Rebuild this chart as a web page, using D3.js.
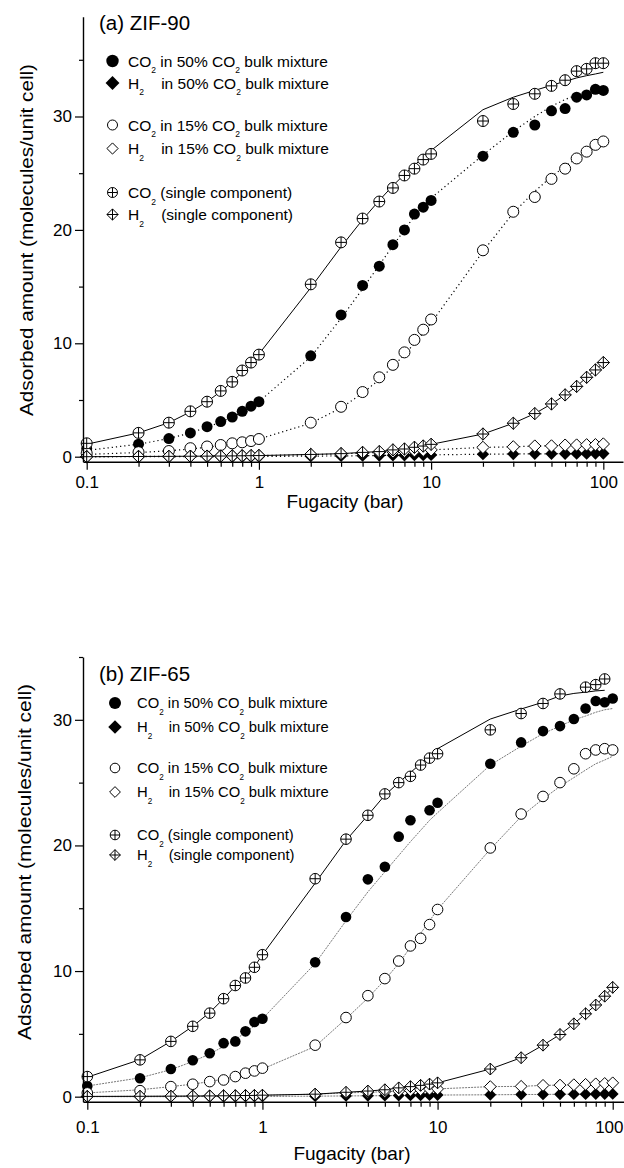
<!DOCTYPE html>
<html>
<head>
<meta charset="utf-8">
<script src="https://cdn.jsdelivr.net/npm/d3@7"></script>
<style>
  html, body { margin: 0; padding: 0; background: #fff; }
  svg text { font-family: "Liberation Sans", Arial, Helvetica, sans-serif; fill: #000; }
</style>
</head>
<body>
<svg id="chart" width="624" height="1168"></svg>
<script>
// Fugacity grid (bar) shared by every isotherm
const fugacity = [0.1,0.2,0.3,0.4,0.5,0.6,0.7,0.8,0.9,1, 2,3,4,5,6,7,8,9,10, 20,30,40,50,60,70,80,90,100];

const xMajorTicks = [0.1, 1, 10, 100];
const xTickLabels = ["0.1", "1", "10", "100"];
const xMinorTicks = [0.2,0.3,0.4,0.5,0.6,0.7,0.8,0.9, 2,3,4,5,6,7,8,9, 20,30,40,50,60,70,80,90];
const yMajorTicks = [0, 10, 20, 30];
const yMinorTicks = [5, 15, 25, 35];

const panelTitles = ["(a) ZIF-90", "(b) ZIF-65"];
const xAxisTitle = "Fugacity (bar)";
const yAxisTitle = "Adsorbed amount (molecules/unit cell)";
const legendLabels = [
  "CO_2 in 50% CO_2 bulk mixture",
  "H_2    in 50% CO_2 bulk mixture",
  "CO_2 in 15% CO_2 bulk mixture",
  "H_2    in 15% CO_2 bulk mixture",
  "CO_2 (single component)",
  "H_2    (single component)"
];

// ZIF-90 : simulated points (molecules/unit cell)
const zif90_co2Mix50 = [0.7,1.1,1.6,2.1,2.65,3.1,3.5,4.0,4.45,4.85, 8.9,12.5,15.1,16.8,18.7,20.0,21.4,22.0,22.6, 26.5,28.6,29.25,30.5,30.7,31.7,31.9,32.4,32.3];
const zif90_h2Mix50  = [0,0,0.01,0.01,0.01,0.01,0.02,0.02,0.02,0.02, 0.05,0.07,0.09,0.1,0.12,0.13,0.14,0.15,0.16, 0.22,0.24,0.25,0.26,0.26,0.27,0.27,0.28,0.28];
const zif90_co2Mix15 = [0.3,0.4,0.5,0.75,0.9,1.03,1.18,1.27,1.38,1.56, 3.0,4.4,5.7,7.0,8.1,9.2,10.3,11.2,12.1, 18.2,21.6,22.9,24.5,25.4,26.3,26.9,27.5,27.8];
const zif90_h2Mix15  = [0.01,0.02,0.03,0.04,0.05,0.06,0.07,0.08,0.09,0.1, 0.18,0.25,0.32,0.38,0.43,0.48,0.52,0.56,0.6, 0.82,0.87,0.94,0.95,1.02,1.03,1.05,1.06,1.12];
const zif90_co2Pure  = [1.18,2.1,3.0,4.0,4.85,5.8,6.6,7.6,8.3,9.0, 15.2,18.9,21.0,22.5,23.7,24.8,25.4,26.2,26.7, 29.6,31.1,32.0,32.7,33.2,34.0,34.2,34.7,34.7];
const zif90_h2Pure   = [0.0,0.02,0.03,0.04,0.05,0.06,0.07,0.08,0.09,0.1, 0.2,0.27,0.38,0.45,0.6,0.68,0.83,0.94,1.09, 2.0,2.95,3.8,4.65,5.45,6.2,7.0,7.65,8.3];

// ZIF-90 : model curves
const zif90_co2Mix50Curve = [0.55,1.1,1.6,2.1,2.6,3.05,3.5,3.95,4.4,4.85, 8.8,12.2,14.8,16.9,18.6,20.0,21.2,22.1,22.8, 26.6,28.7,30.0,30.9,31.5,31.9,32.2,32.4,32.6];
const zif90_co2Mix15Curve = [0.2,0.37,0.52,0.68,0.83,0.98,1.13,1.28,1.42,1.56, 2.95,4.3,5.6,6.8,7.95,9.0,10.0,10.9,11.8, 18.1,21.5,23.4,24.7,25.6,26.3,26.9,27.4,27.8];
const zif90_co2PureCurve  = [1.1,2.1,3.0,3.95,4.85,5.75,6.6,7.45,8.25,9.05, 14.9,18.5,20.9,22.6,23.9,24.9,25.7,26.4,27.0, 30.6,31.7,32.3,32.75,33.1,33.4,33.6,33.75,33.9];

// ZIF-65 : simulated points (molecules/unit cell)
const zif65_co2Mix50 = [0.85,1.47,2.2,2.9,3.46,4.26,4.4,5.2,5.94,6.2, 10.7,14.3,17.3,18.3,20.7,22.0,null,22.8,23.4, 26.5,28.2,29.1,29.5,30.06,30.9,31.5,31.4,31.7];
const zif65_h2Mix50  = [0,0,0,0.01,0.01,0.01,0.01,0.02,0.02,0.02, 0.04,0.06,0.07,0.08,0.09,0.1,0.11,0.12,0.13, 0.15,0.17,0.18,0.19,0.2,0.2,0.21,0.21,0.22];
const zif65_co2Mix15 = [0.3,0.48,0.8,0.99,1.2,1.33,1.6,1.87,2.05,2.27, 4.1,6.3,8.04,9.4,10.8,12.0,12.6,13.7,14.9, 19.8,22.5,23.9,25.0,26.1,27.3,27.6,27.7,27.6];
const zif65_h2Mix15  = [0.02,0.03,0.04,0.05,0.06,0.07,0.08,0.09,0.1,0.1, 0.2,0.3,0.35,0.4,0.45,0.5,0.55,0.6,0.62, 0.8,0.82,0.9,0.92,0.95,0.98,1.02,1.05,1.1];
const zif65_co2Pure  = [1.6,2.93,4.4,5.6,6.65,7.8,8.85,9.45,10.3,11.3, 17.35,20.5,22.4,24.1,25.0,25.5,26.4,26.95,27.3, 29.2,30.5,31.3,32.06,null,32.6,32.8,33.25,null];
const zif65_h2Pure   = [0.02,0.03,0.04,0.05,0.06,0.07,0.08,0.09,0.1,0.12, 0.2,0.35,0.45,0.55,0.7,0.8,0.9,1.0,1.1, 2.2,3.1,4.1,4.95,5.8,6.6,7.3,8.0,8.7];

// ZIF-65 : model curves
const zif65_co2Mix50Curve = [0.85,1.5,2.15,2.8,3.4,4.0,4.55,5.1,5.65,6.2, 10.6,14.0,16.3,17.9,19.2,20.3,21.2,22.0,22.6, 26.4,27.9,28.9,29.5,30.0,30.3,30.6,30.8,30.9];
const zif65_co2Mix15Curve = [0.3,0.55,0.8,1.0,1.2,1.4,1.6,1.8,2.0,2.2, 4.0,6.2,7.85,9.3,10.6,11.9,13.0,14.0,14.9, 19.7,22.3,23.7,24.7,25.4,26.0,26.5,26.8,27.1];
const zif65_co2PureCurve  = [1.55,2.95,4.4,5.6,6.7,7.8,8.8,9.55,10.35,11.3, 17.0,20.4,22.4,24.0,25.0,25.8,26.5,27.1,27.7, 30.06,30.86,31.4,31.9,32.1,32.2,32.3,32.35,null];

const svg = d3.select("#chart");
const svgWidth = +svg.attr("width");

// marker shapes
function diamondPath(h) { return `M0,${-h}L${h},0L0,${h}L${-h},0Z`; }
function drawMarker(sel, kind, r) {
  const h = r * 1.12;
  if (kind === "filledCircle") {
    sel.append("circle").attr("r", r).attr("fill", "#000");
  } else if (kind === "openCircle") {
    sel.append("circle").attr("r", r).attr("fill", "#fff").attr("stroke", "#000").attr("stroke-width", 1);
  } else if (kind === "crossCircle") {
    sel.append("circle").attr("r", r).attr("fill", "#fff").attr("stroke", "#000").attr("stroke-width", 1);
    sel.append("path").attr("d", `M${-r},0H${r}M0,${-r}V${r}`).attr("stroke", "#000").attr("stroke-width", 1);
  } else if (kind === "filledDiamond") {
    sel.append("path").attr("d", diamondPath(h)).attr("fill", "#000");
  } else if (kind === "openDiamond") {
    sel.append("path").attr("d", diamondPath(h)).attr("fill", "#fff").attr("stroke", "#000").attr("stroke-width", 1);
  } else if (kind === "crossDiamond") {
    sel.append("path").attr("d", diamondPath(h)).attr("fill", "#fff").attr("stroke", "#000").attr("stroke-width", 1);
    sel.append("path").attr("d", `M${-h},0H${h}M0,${-h}V${h}`).attr("stroke", "#000").attr("stroke-width", 1);
  }
}

function addRichText(sel, label, size) {
  // "_2" marks a subscript digit
  const parts = label.split(/(_\d)/);
  parts.forEach(p => {
    if (!p) return;
    if (p[0] === "_") {
      sel.append("tspan").text(p.slice(1)).attr("font-size", size * 0.55).attr("dy", size * 0.42);
    } else {
      const t = sel.append("tspan").text(p);
      if (sel.selectAll("tspan").size() > 1) t.attr("dy", -size * 0.42);
    }
  });
}

function drawPanel(p) {
  const g = svg.append("g");
  const x = d3.scaleLog().domain(p.xDomain).range(p.xRange);
  const y = d3.scaleLinear().domain(p.yDomain).range(p.yRange);
  const y0 = p.yRange[0];

  const series = [
    { pts: p.co2Mix50, curve: p.co2Mix50Curve, kind: "filledCircle", style: "mix" },
    { pts: p.h2Mix50,  curve: p.h2Mix50,       kind: "filledDiamond", style: "mix" },
    { pts: p.co2Mix15, curve: p.co2Mix15Curve, kind: "openCircle", style: "mix" },
    { pts: p.h2Mix15,  curve: p.h2Mix15,       kind: "openDiamond", style: "mix" },
    { pts: p.co2Pure,  curve: p.co2PureCurve,  kind: "crossCircle", style: "pure" },
    { pts: p.h2Pure,   curve: p.h2Pure,        kind: "crossDiamond", style: "pure" }
  ];

  const line = d3.line()
    .defined(d => d[1] != null)
    .x(d => x(d[0])).y(d => y(d[1]));

  // model curves underneath the symbols
  series.forEach(s => {
    const path = g.append("path")
      .datum(fugacity.map((f, i) => [f, s.curve[i]]))
      .attr("d", line).attr("fill", "none");
    if (s.style === "pure") {
      path.attr("stroke", "#000").attr("stroke-width", 1);
    } else {
      path.attr("stroke", p.mixColor).attr("stroke-width", p.mixWidth).attr("stroke-dasharray", p.mixDash);
    }
  });

  // simulated points
  series.forEach(s => {
    g.append("g").selectAll("g")
      .data(fugacity.map((f, i) => [f, s.pts[i]]).filter(d => d[1] != null))
      .join("g")
      .attr("transform", d => `translate(${x(d[0])},${y(d[1])})`)
      .each(function () { drawMarker(d3.select(this), s.kind, p.markerR); });
  });

  // axes
  const styleAxis = sel => {
    sel.attr("font-family", null);
    sel.selectAll("path.domain").attr("stroke", "#000").attr("stroke-width", 1.4);
    sel.selectAll(".tick line").attr("stroke", "#000").attr("stroke-width", 1.2);
    sel.selectAll("text").attr("font-size", 17);
  };
  g.append("g").attr("transform", `translate(0,${y0})`)
    .call(d3.axisBottom(x).tickValues(xMinorTicks).tickFormat("").tickSize(5).tickSizeOuter(0))
    .call(sel => sel.select("path.domain").remove())
    .call(styleAxis);
  const xAxisG = g.append("g").attr("transform", `translate(0,${y0})`)
    .call(d3.axisBottom(x).tickValues(xMajorTicks).tickFormat((d, i) => xTickLabels[i])
      .tickSize(8).tickSizeOuter(0).tickPadding(p.xPad))
    .call(styleAxis);
  // keep the last tick label inside the drawing
  xAxisG.selectAll(".tick text").each(function (d) {
    const w = this.getComputedTextLength();
    const over = x(d) + w / 2 - (svgWidth - 1);
    if (over > 0) d3.select(this).attr("x", -over);
  });
  g.append("g").attr("transform", `translate(${p.yAxisX},0)`)
    .call(d3.axisLeft(y).tickValues(yMinorTicks).tickFormat("").tickSize(4).tickSizeOuter(0))
    .call(sel => sel.select("path.domain").remove())
    .call(styleAxis);
  g.append("g").attr("transform", `translate(${p.yAxisX},0)`)
    .call(d3.axisLeft(y).tickValues(yMajorTicks).tickSize(8).tickSizeOuter(0).tickPadding(3))
    .call(styleAxis);

  // axis titles
  g.append("text").attr("x", p.xTitle[0]).attr("y", p.xTitle[1])
    .attr("text-anchor", "middle").attr("font-size", 19).text(xAxisTitle);
  g.append("text")
    .attr("transform", `translate(${p.yTitle[0]},${p.yTitle[1]}) rotate(-90)`)
    .attr("text-anchor", "middle").attr("font-size", 18.5)
    .attr("textLength", p.yTitleLength).attr("lengthAdjust", "spacingAndGlyphs")
    .text(yAxisTitle);

  // panel title and legend
  g.append("text").attr("x", p.title[0]).attr("y", p.title[1])
    .attr("font-size", 20.5).text(p.name);
  const lg = g.append("g");
  series.forEach((s, i) => {
    const cy = p.legendRows[i];
    const m = lg.append("g").attr("transform", `translate(${p.legendMarkerX},${cy})`);
    drawMarker(m, s.kind, s.kind.startsWith("filled") ? p.markerR + 0.7 : p.markerR - 0.5);
    const t = lg.append("text").attr("x", p.legendTextX).attr("y", cy + p.legendFont * 0.36)
      .attr("font-size", p.legendFont).style("white-space", "pre");
    addRichText(t, legendLabels[i], p.legendFont);
  });
}

drawPanel({
  name: panelTitles[0],
  xDomain: [0.09517, 130.1], xRange: [83, 623],
  yDomain: [-0.45, 38.8], yRange: [461.8, 16.7],
  yAxisX: 83, xPad: 6,
  xTitle: [345, 508], yTitle: [33, 240], yTitleLength: 352,
  title: [99, 30],
  legendRows: [61, 83, 125, 148.5, 192.5, 214.5],
  legendMarkerX: 112.5, legendTextX: 128, legendFont: 15.5,
  markerR: 5.5, mixColor: "#000", mixWidth: 1.2, mixDash: "1.2,3",
  co2Mix50: zif90_co2Mix50, h2Mix50: zif90_h2Mix50, co2Mix15: zif90_co2Mix15,
  h2Mix15: zif90_h2Mix15, co2Pure: zif90_co2Pure, h2Pure: zif90_h2Pure,
  co2Mix50Curve: zif90_co2Mix50Curve, co2Mix15Curve: zif90_co2Mix15Curve, co2PureCurve: zif90_co2PureCurve
});

drawPanel({
  name: panelTitles[1],
  xDomain: [0.0945, 116.0], xRange: [83, 624],
  yDomain: [-0.4, 35.0], yRange: [1101.7, 657],
  yAxisX: 83, xPad: 11,
  xTitle: [352, 1160], yTitle: [31, 862], yTitleLength: 356,
  title: [99, 680.5],
  legendRows: [703, 727, 768, 792, 835, 855],
  legendMarkerX: 115, legendTextX: 137, legendFont: 14.8,
  markerR: 5.3, mixColor: "#555", mixWidth: 0.8, mixDash: "2,1",
  co2Mix50: zif65_co2Mix50, h2Mix50: zif65_h2Mix50, co2Mix15: zif65_co2Mix15,
  h2Mix15: zif65_h2Mix15, co2Pure: zif65_co2Pure, h2Pure: zif65_h2Pure,
  co2Mix50Curve: zif65_co2Mix50Curve, co2Mix15Curve: zif65_co2Mix15Curve, co2PureCurve: zif65_co2PureCurve
});
</script>
</body>
</html>
